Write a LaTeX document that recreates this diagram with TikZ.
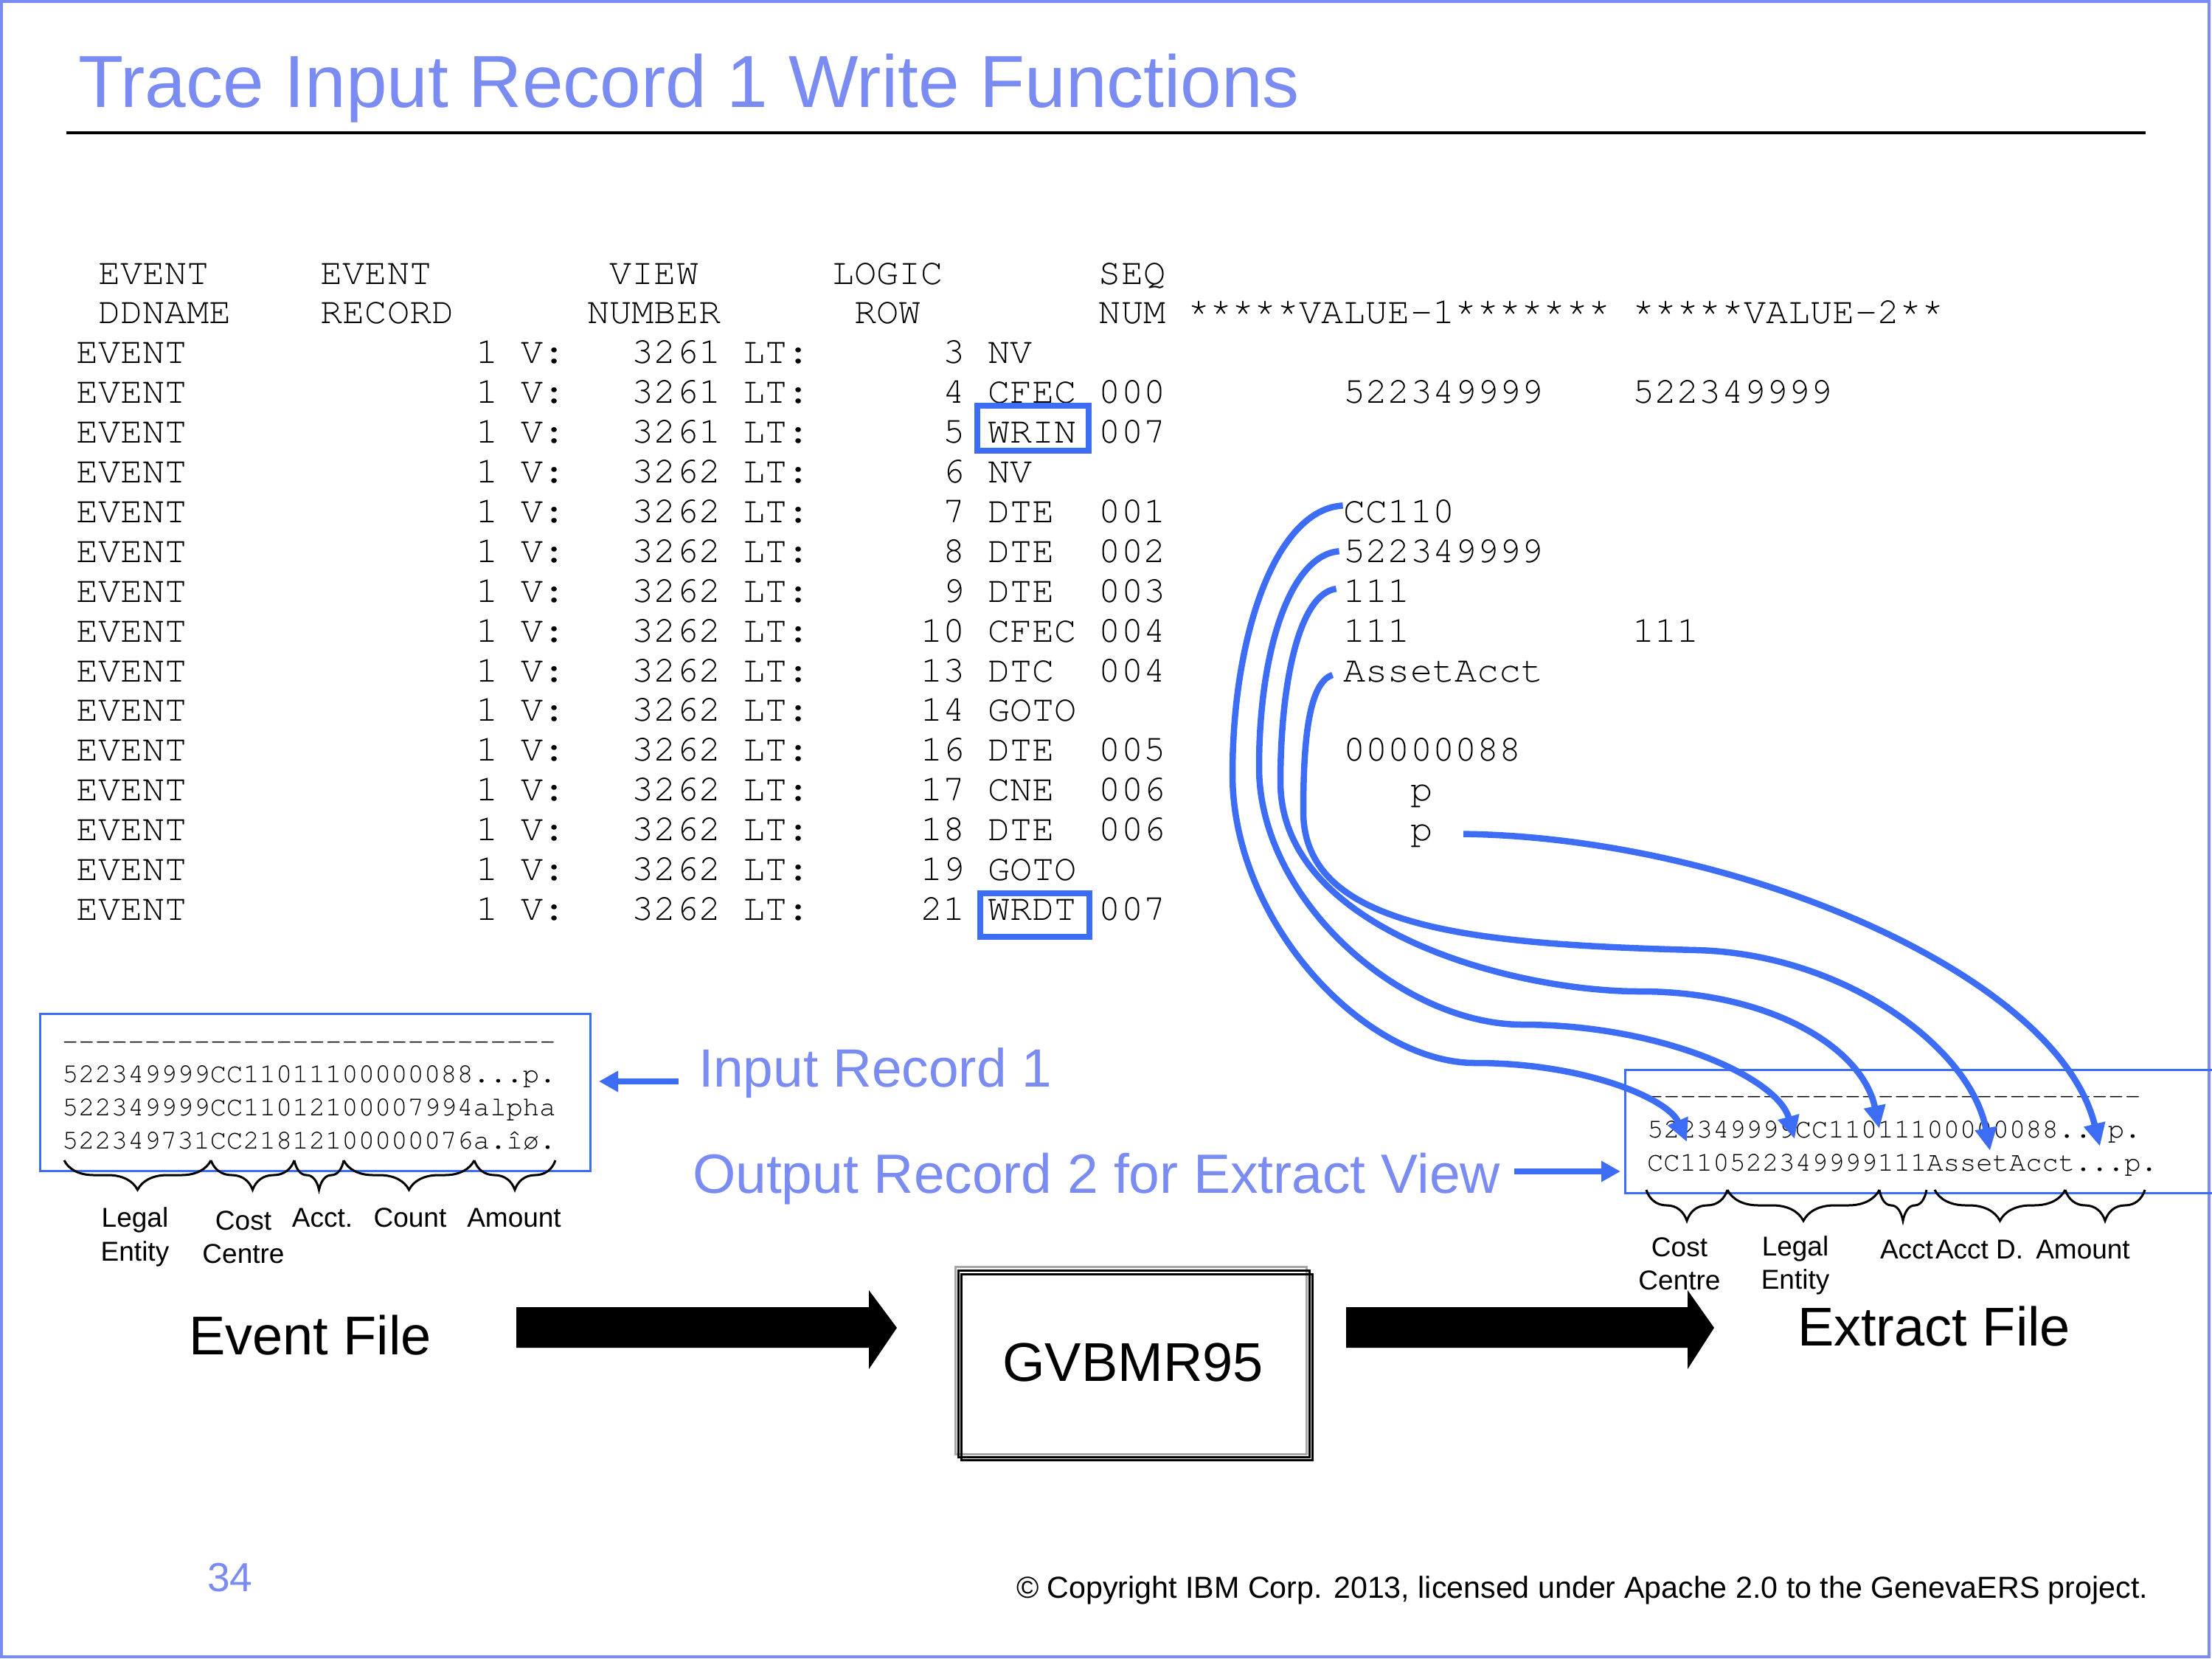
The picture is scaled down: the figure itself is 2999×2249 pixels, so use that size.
\documentclass[tikz,border=0pt]{standalone}
\usepackage{fontspec}
\setmainfont{Liberation Sans}
\setmonofont{TeX Gyre Cursor}
\usetikzlibrary{arrows.meta,decorations.pathreplacing,calc}

\definecolor{lightblue}{RGB}{122,139,242}
\definecolor{boxblue}{RGB}{61,108,245}

% fixed-pitch blank of n character cells
\newcommand\gap[1]{\kern#1\dimexpr0.6em\relax}
% one trace line: view number, two-cell logic row, function and sequence
\newcommand\evrow[3]{EVENT\gap{13}1\gap{1}V:\gap{3}#1\gap{1}LT:\gap{5}#2\gap{1}#3}

\begin{document}
\begin{tikzpicture}[x=1pt,y=-1pt,
  every node/.style={inner sep=0pt, outer sep=0pt},
  mono/.style={font=\fontsize{50.25}{56}\ttfamily, anchor=base west},
  recmono/.style={font=\fontsize{37.2}{44}\ttfamily, anchor=base west},
  lbl/.style={font=\fontsize{37}{44}\selectfont, anchor=base},
  big/.style={font=\fontsize{74}{84}\selectfont, anchor=base west},
  callout/.style={font=\fontsize{75}{84}\selectfont, anchor=base west, text=lightblue},
  opbox/.style={draw=boxblue, line width=8pt},
  recbox/.style={draw=boxblue, line width=3pt, anchor=north west},
  flow/.style={draw=boxblue, line width=8.5pt, -{Triangle[length=31pt,width=28pt]}},
  pointer/.style={draw=boxblue, line width=8pt, -{Triangle[length=26pt,width=27pt]}},
  brc/.style={decorate, decoration={brace, amplitude=#1, mirror}, line width=3pt},
]
\useasboundingbox (0,0) rectangle (2999,2249);
\fill[white] (0,0) rectangle (2999,2249);
\draw[lightblue, line width=4pt] (2,2) rectangle (2995,2246);

% title and rule
\node[anchor=base west, font=\fontsize{100}{110}\selectfont, text=lightblue] (title) at (106,145) {Trace Input Record 1 Write Functions};
\coordinate (ruleL) at (90,180);
\coordinate (ruleR) at (2909,180);
\draw[line width=4pt] (ruleL) -- (ruleR);

% trace listing
\node[mono] (h1) at (103,385.0) {\gap{1}EVENT\gap{5}EVENT\gap{8}VIEW\gap{6}LOGIC\gap{7}SEQ};
\node[mono] (h2) at (103,438.9) {\gap{1}DDNAME\gap{4}RECORD\gap{6}NUMBER\gap{6}ROW\gap{8}NUM\gap{1}*****VALUE-1*******\gap{1}*****VALUE-2**};
\node[mono] (r1)  at (103,492.8)  {\evrow{3261}{\gap{1}3}{NV}};
\node[mono] (r2)  at (103,546.7)  {\evrow{3261}{\gap{1}4}{CFEC\gap{1}000}};
\node[mono] (r3)  at (103,600.6)  {\evrow{3261}{\gap{1}5}{WRIN\gap{1}007}};
\node[mono] (r4)  at (103,654.5)  {\evrow{3262}{\gap{1}6}{NV}};
\node[mono] (r5)  at (103,708.4)  {\evrow{3262}{\gap{1}7}{DTE\gap{2}001}};
\node[mono] (r6)  at (103,762.3)  {\evrow{3262}{\gap{1}8}{DTE\gap{2}002}};
\node[mono] (r7)  at (103,816.2)  {\evrow{3262}{\gap{1}9}{DTE\gap{2}003}};
\node[mono] (r8)  at (103,870.1)  {\evrow{3262}{10}{CFEC\gap{1}004}};
\node[mono] (r9)  at (103,924.0)  {\evrow{3262}{13}{DTC\gap{2}004}};
\node[mono] (r10) at (103,977.9)  {\evrow{3262}{14}{GOTO}};
\node[mono] (r11) at (103,1031.8) {\evrow{3262}{16}{DTE\gap{2}005}};
\node[mono] (r12) at (103,1085.7) {\evrow{3262}{17}{CNE\gap{2}006}};
\node[mono] (r13) at (103,1139.6) {\evrow{3262}{18}{DTE\gap{2}006}};
\node[mono] (r14) at (103,1193.5) {\evrow{3262}{19}{GOTO}};
\node[mono] (r15) at (103,1247.4) {\evrow{3262}{21}{WRDT\gap{1}007}};

% value columns
\node[mono] (v0a) at (1821.6,546.7)  {522349999};
\node[mono] (v0b) at (2213.5,546.7)  {522349999};
\node[mono] (v1)  at (1821.6,708.4)  {CC110};
\node[mono] (v2)  at (1821.6,762.3)  {522349999};
\node[mono] (v3)  at (1821.6,816.2)  {111};
\node[mono] (v3a) at (1821.6,870.1)  {111};
\node[mono] (v3b) at (2213.5,870.1)  {111};
\node[mono] (v4)  at (1821.6,924.0)  {AssetAcct};
\node[mono] (v6)  at (1821.6,1031.8) {00000088};
\node[mono] (p1)  at (1912.0,1085.7) {p};
\node[mono] (v5)  at (1912.0,1139.6) {p};

% highlighted write functions
\node[opbox, minimum width=151, minimum height=61] (wrin) at (1400.5,580.5) {};
\node[opbox, minimum width=148, minimum height=59] (wrdt) at (1403,1240.5) {};

% input record box
\node[recbox, minimum width=746, minimum height=213] (inbox) at (54,1374) {};
\node[recmono] (in0) at (84,1423) {------------------------------};
\node[recmono] (in1) at (84,1467) {522349999CC11011100000088...p.};
\node[recmono] (in2) at (84,1512) {522349999CC11012100007994alpha};
\node[recmono] (in3) at (84,1557) {522349731CC21812100000076a.îø.};
\draw[brc=40pt] (87,1573) -- (286,1573);
\draw[brc=40pt] (286,1573) -- (399,1573);
\draw[brc=40pt] (399,1573) -- (466,1573);
\draw[brc=40pt] (466,1573) -- (643,1573);
\draw[brc=40pt] (643,1573) -- (753,1573);
\node[lbl] (ile1) at (183,1663) {Legal};
\node[lbl] (ile2) at (183,1709) {Entity};
\node[lbl] (icc1) at (330,1667) {Cost};
\node[lbl] (icc2) at (330,1712) {Centre};
\node[lbl] (iac)  at (437,1663) {Acct.};
\node[lbl] (ict)  at (556,1663) {Count};
\node[lbl] (iam)  at (697,1663) {Amount};

% callouts
\node[callout, font=\fontsize{73}{84}\selectfont] (inrec) at (947,1473) {Input Record 1};
\node[callout] (outrec) at (939,1617) {Output Record 2 for Extract View};
\draw[pointer] ($(inrec.base west)+(-27,-7)$) -- ($(inbox.east |- inrec.base west)+(12,-7)$);

% extract record box
\node[recbox, minimum width=800, minimum height=167] (ebox) at (2203,1450) {};
\node[recmono] (ex0) at (2233,1497) {------------------------------};
\node[recmono] (ex1) at (2233,1542) {522349999CC11011100000088...p.};
\node[recmono] (ex2) at (2233,1587) {CC110522349999111AssetAcct...p.};
\draw[pointer] ($(outrec.base east)+(19,-29)$) -- ($(ebox.west |- outrec.base east)+(-6,-29)$);
\draw[brc=42pt] (2232,1613) -- (2342,1613);
\draw[brc=42pt] (2342,1613) -- (2548,1613);
\draw[brc=42pt] (2548,1613) -- (2612,1613);
\draw[brc=42pt] (2623,1613) -- (2800,1613);
\draw[brc=42pt] (2800,1613) -- (2908,1613);
\node[lbl] (occ1) at (2277,1703) {Cost};
\node[lbl] (occ2) at (2277,1748) {Centre};
\node[lbl] (ole1) at (2434,1702) {Legal};
\node[lbl] (ole2) at (2434,1747) {Entity};
\node[lbl, anchor=base east] (oac) at (2621,1706) {Acct};
\node[lbl, anchor=base west] (oad) at (2624,1706) {Acct D.};
\node[lbl] (oam) at (2824,1706) {Amount};

% field moves into the extract record
\coordinate (t1) at (2287,1548);
\coordinate (t2) at (2433,1544);
\coordinate (t3) at (2548,1530);
\coordinate (t4) at (2698,1560);
\coordinate (t5) at (2847,1554);
\draw[flow] ($(v1.base west)+(-1,-23)$) .. controls (1730,690) and (1671,860) .. (1671,1050)
  .. controls (1671,1250) and (1850,1441) .. (2000,1441)
  .. controls (2150,1441) and (2262,1490) .. (t1);
\draw[flow] ($(v2.base west)+(-6,-15)$) .. controls (1750,752) and (1707,880) .. (1707,1040)
  .. controls (1707,1220) and (1900,1389) .. (2064,1389)
  .. controls (2250,1389) and (2410,1460) .. (t2);
\draw[flow] ($(v3.base west)+(-10,-18)$) .. controls (1760,805) and (1736,930) .. (1736,1060)
  .. controls (1736,1260) and (2050,1344) .. (2223,1344)
  .. controls (2400,1344) and (2525,1420) .. (t3);
\draw[flow] ($(v4.base west)+(-15,-9)$) .. controls (1775,925) and (1767,1000) .. (1767,1100)
  .. controls (1767,1260) and (2000,1280) .. (2300,1288)
  .. controls (2500,1293) and (2672,1420) .. (t4);
\draw[flow] ($(v5.base east)+(42,-9)$) .. controls (2350,1135) and (2790,1320) .. (t5);

% process flow
\node[big] (evfile) at (256,1836) {Event File};
\fill (700,1772) -- (1178,1772) -- (1178,1749) -- (1216,1800) -- (1178,1856) -- (1178,1827) -- (700,1827) -- cycle;
\draw[gray!70, line width=3pt] (1295,1717) rectangle (1771,1971);
\draw[line width=3pt] (1299,1722) rectangle (1775,1975);
\draw[line width=3pt] (1303,1727) rectangle (1779,1979);
\node[font=\fontsize{74}{84}\selectfont, anchor=base] (gvb) at (1536,1872) {GVBMR95};
\fill (1825,1772) -- (2288,1772) -- (2288,1749) -- (2324,1800) -- (2288,1856) -- (2288,1827) -- (1825,1827) -- cycle;
\node[big] (exfile) at (2437,1824) {Extract File};

% footer
\node[anchor=base west, font=\fontsize{55}{60}\selectfont, text=lightblue] (pageno) at (281,2157) {34};
\node[anchor=base west, font=\fontsize{41.2}{48}\selectfont] (copy) at (1378,2166) {© Copyright IBM Corp. 2013, licensed under Apache 2.0 to the GenevaERS project.};
\end{tikzpicture}
\end{document}
